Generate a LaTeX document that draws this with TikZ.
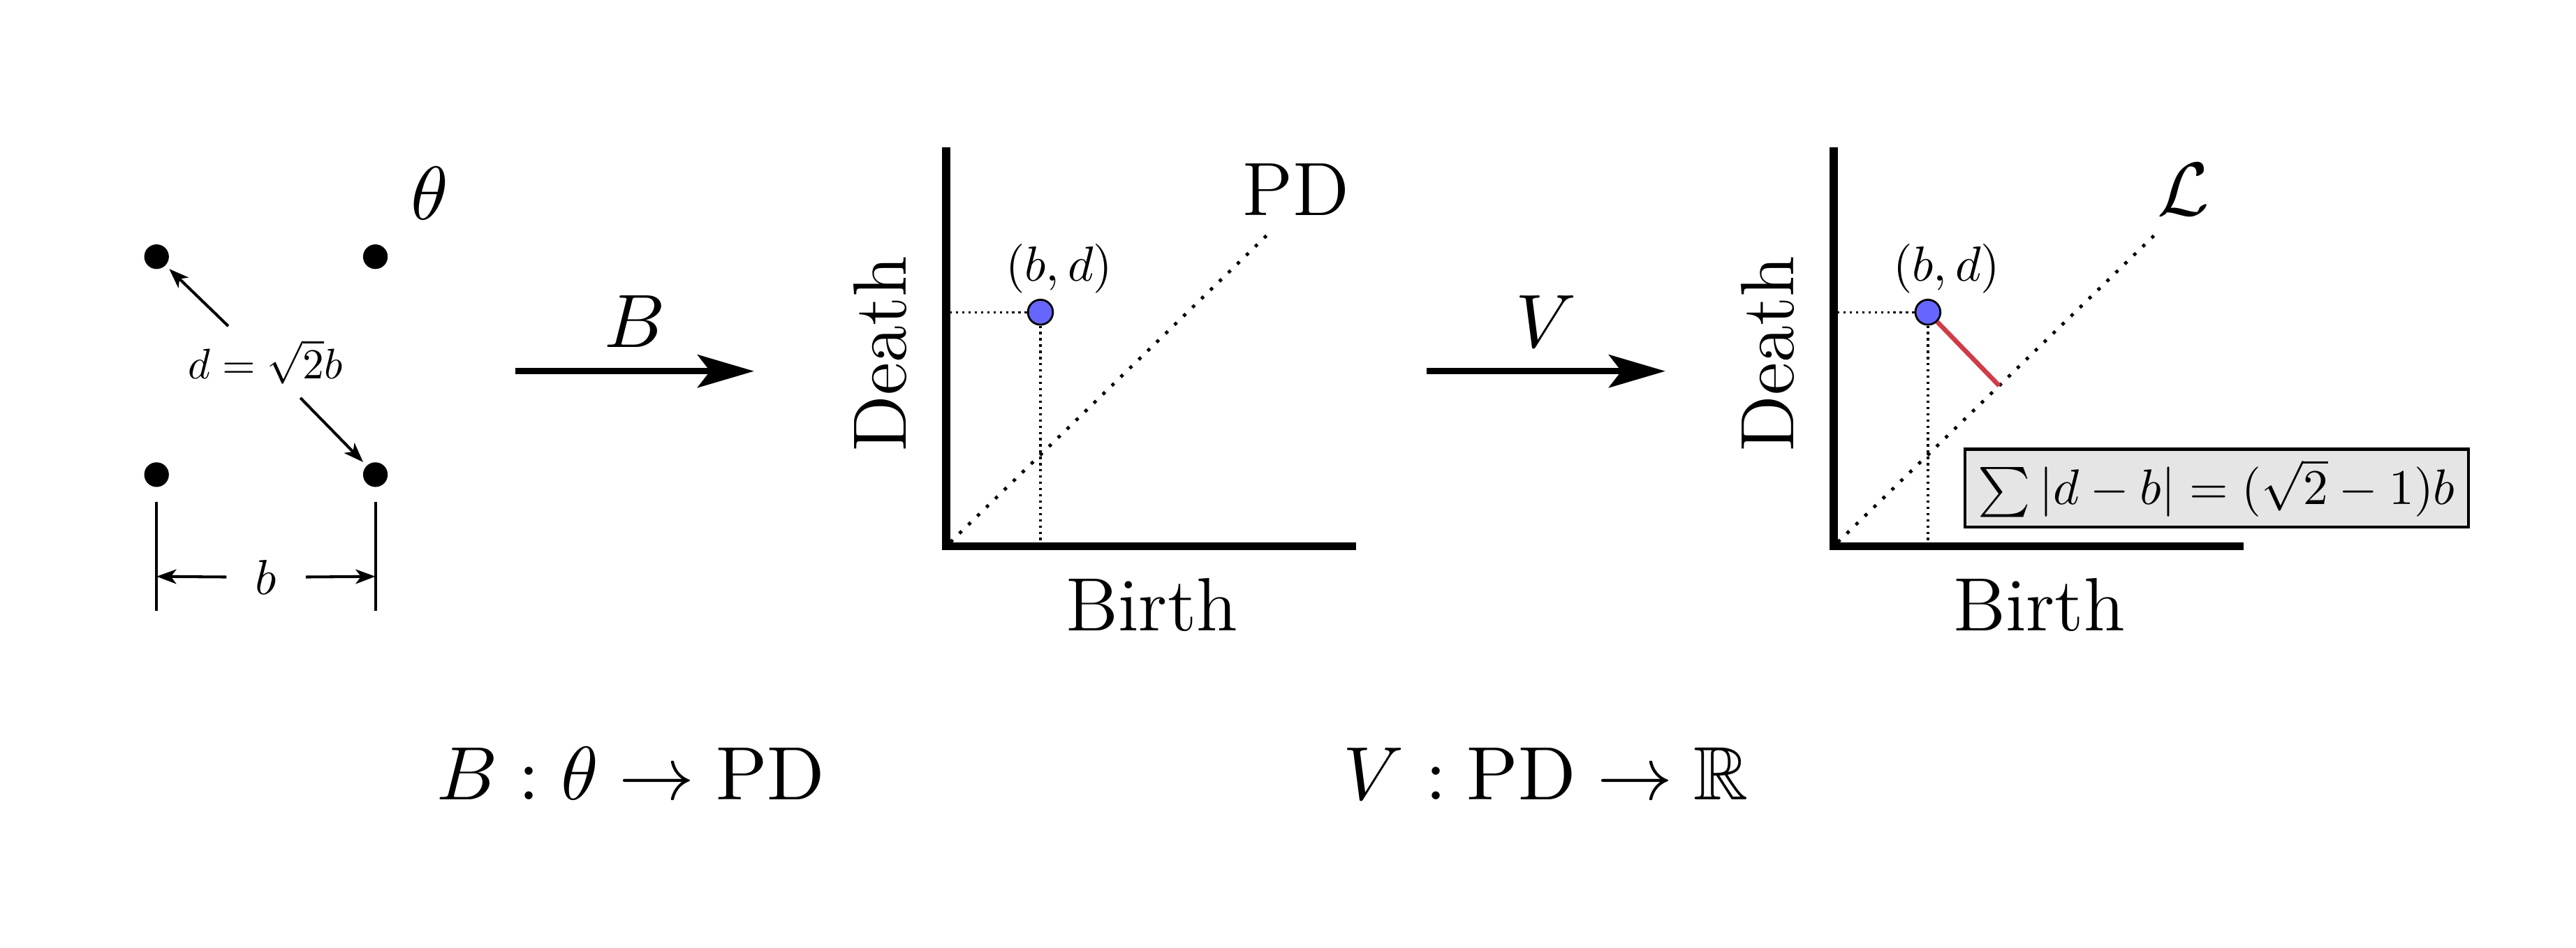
\RequirePackage{fix-cm}
\documentclass[tikz,border=0pt]{standalone}
\usepackage{amssymb}
\usetikzlibrary{arrows.meta, calc}

\definecolor{ptblue}{RGB}{102,102,255}
\definecolor{lossred}{RGB}{208,60,70}
\definecolor{boxgray}{RGB}{229,229,229}

\begin{document}
\begin{tikzpicture}[
    x=0.25pt, y=-0.25pt,
    big/.style={font=\fontsize{11.5}{13}\selectfont, inner sep=0pt},
    small/.style={font=\fontsize{10}{12}\selectfont, scale=0.75, inner sep=1pt},
    vertex/.style={circle, fill=black, inner sep=0pt, minimum size=3.75pt, outer sep=0.8pt},
    bdpoint/.style={circle, draw=black, line width=0.3pt, fill=ptblue, inner sep=0pt, minimum size=3.8pt},
    axisline/.style={line width=1.25pt},
    diagline/.style={line width=0.5pt, dash pattern=on 0.5pt off 1.4pt},
    guide/.style={line width=0.35pt, dash pattern=on 0.35pt off 0.6pt},
    lossline/.style={line width=0.7pt, lossred},
    maparrow/.style={-{Stealth[length=8.6pt, width=5pt, inset=1.9pt]}, line width=0.9pt},
    dimarrow/.style={-{Stealth[length=3pt, width=2.2pt, inset=0.8pt]}, line width=0.43pt},
    dimline/.style={line width=0.43pt},
]
\useasboundingbox (0,0) rectangle (1568,577);

% square of points theta
\node[vertex] (v_tl) at (95.3,156.3) {};
\node[vertex] (v_tr) at (228.5,156.3) {};
\node[vertex] (v_bl) at (95.3,289) {};
\node[vertex] (v_br) at (228.5,289) {};
\node[big, anchor=base] (theta) at (261.7,133.5) {$\theta$};

\node[small, scale=0.867, inner sep=3pt] (dlab) at (161.5,220.4) {$d=\sqrt{2}b$};
\draw[dimarrow] (dlab) -- (v_tl);
\draw[dimarrow] (dlab) -- (v_br);

% side length b
\draw[dimline] (95.3,305.5) -- (95.3,372);
\draw[dimline] (228.5,305.5) -- (228.5,372);
\coordinate (bar_l) at (95.3,351);
\coordinate (bar_r) at (228.5,351);
\node[small, inner xsep=5.7pt] (blab) at (162,351.5) {$b$};
\draw[dimarrow] (blab) -- (bar_l);
\draw[dimarrow] (blab) -- (bar_r);

% maps B and V
\coordinate (b_from) at (313.7,226);
\coordinate (b_to) at (459,226);
\draw[maparrow] (b_from) -- node[big, midway, above=3.2pt] (b_lab) {$B$} (b_to);
\coordinate (v_from) at (868.4,226);
\coordinate (v_to) at (1013.7,226);
\draw[maparrow] (v_from) -- node[big, midway, above=3.2pt] (v_lab) {$V$} (v_to);

% the two diagrams
\foreach \n/\sx/\name in {1/0/PD, 2/540.2/{$\mathcal{L}$}} {
    \coordinate (o\n) at (575.9+\sx,332.6);
    \coordinate (ytop\n) at (575.9+\sx,89.5);
    \coordinate (xend\n) at (825.3+\sx,332.6);
    \coordinate (dstart\n) at (578.5+\sx,330.1);
    \coordinate (dend\n) at (774.7+\sx,139.8);
    \node[bdpoint] (p\n) at (633.3+\sx,190.1) {};
    \draw[guide] (p\n) -- (p\n -| o\n);
    \draw[guide] (p\n) -- (p\n |- o\n);
    \draw[diagline] (dstart\n) -- (dend\n);
    \draw[axisline] (ytop\n) -- (o\n) -- (xend\n);
    \node[small] (bd\n) at (644.7+\sx,163.6) {$(b,d)$};
    \node[big, anchor=base] (lab\n) at (788.8+\sx,131) {\name};
    \node[big, rotate=90, anchor=base] (death\n) at (551.7+\sx,215.6) {Death};
    \node[big, anchor=base] (birth\n) at (701+\sx,384) {Birth};
}

% distance to the diagonal
\coordinate (foot) at ($(dstart2)!(p2)!(dend2)$);
\draw[lossline] (p2) -- (foot);
\node[draw, fill=boxgray, line width=0.45pt, font=\fontsize{10}{12}\selectfont, scale=0.76,
      minimum width=100.8pt, minimum height=15.6pt, inner sep=0pt] (lossbox) at (1349.2,297.2)
      {$\sum|d-b|=(\sqrt{2}-1)b$};

\node[big, anchor=base] (bmap) at (384,486.7) {$B:\theta\to\mathrm{PD}$};
\node[big, anchor=base] (vmap) at (941,486.7) {$V:\mathrm{PD}\to\mathbb{R}$};

\end{tikzpicture}
\end{document}
